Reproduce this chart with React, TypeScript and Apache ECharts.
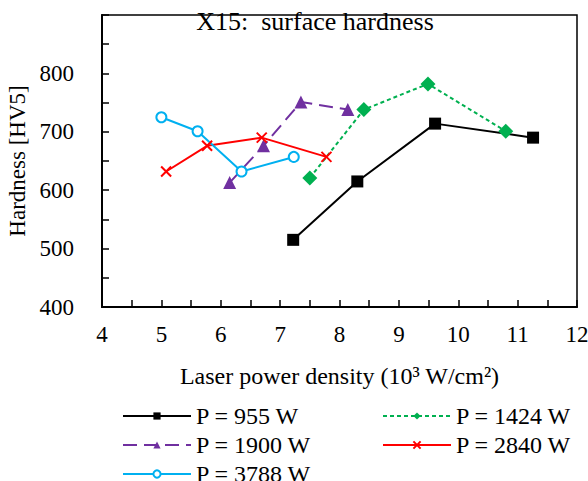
import React, { useEffect, useRef } from "react";
import * as echarts from "echarts";

const seriesNames = ["P = 955 W", "P = 1424 W", "P = 1900 W", "P = 2840 W", "P = 3788 W"];
const x955 = [7.22, 8.3, 9.61, 11.26];
const y955 = [515, 615, 714, 690];
const x1424 = [7.5, 8.41, 9.49, 10.8];
const y1424 = [621, 738, 782, 701];
const x1900 = [6.15, 6.72, 7.35, 8.14];
const y1900 = [613, 676, 751, 738];
const x2840 = [5.08, 5.77, 6.69, 7.78];
const y2840 = [632, 676, 690, 657];
const x3788 = [5.0, 5.61, 6.35, 7.23];
const y3788 = [725, 701, 632, 657];

const zip = (xs: number[], ys: number[]) => xs.map((x, i) => [x, ys[i]]);

const FONT = "'Liberation Serif', 'Times New Roman', serif";

export default function App() {
  const ref = useRef<HTMLDivElement>(null);
  useEffect(() => {
    const chart = echarts.init(ref.current!, null, { renderer: "svg" });
    const cross = "path://M0,0L10,10M10,0L0,10";
    const legendText = { fontFamily: FONT, fontSize: 24, lineHeight: 16, color: "#000" };
    const mkLegend = (name: string, left: number, top: number) => ({
      data: [name], orient: "horizontal", left, top,
      itemWidth: 68, itemHeight: 9, itemGap: 0, padding: 0,
      textStyle: legendText,
    });
    chart.setOption({
      animation: false,
      backgroundColor: "#fff",
      textStyle: { fontFamily: FONT, color: "#000" },
      title: {
        text: "X15:  surface hardness",
        left: 315,
        textAlign: "center",
        top: 8,
        padding: 0,
        textStyle: { fontFamily: FONT, fontSize: 26, fontWeight: "normal", color: "#000" },
      },
      grid: {
        left: 102, right: 11, top: 15, bottom: 174,
        containLabel: false,
        outerBoundsMode: "none",
        show: true, borderColor: "#000", borderWidth: 1.5,
      },
      xAxis: {
        type: "value", min: 4, max: 12, interval: 1,
        name: "Laser power density (10³ W/cm²)",
        nameLocation: "middle", nameGap: 57,
        nameTextStyle: { fontFamily: FONT, fontSize: 24, color: "#000" },
        axisLine: { lineStyle: { color: "#000", width: 2 } },
        axisTick: { inside: true, length: 7, lineStyle: { color: "#000", width: 1.5 } },
        minorTick: { show: true, splitNumber: 2, length: 7, lineStyle: { color: "#000", width: 1.5 } },
        splitLine: { show: false },
        axisLabel: { fontFamily: FONT, fontSize: 23, color: "#000", margin: 16 },
      },
      yAxis: {
        type: "value", min: 400, max: 900, interval: 100,
        name: "Hardness [HV5]",
        nameLocation: "middle", nameGap: 69,
        nameTextStyle: { fontFamily: FONT, fontSize: 23, color: "#000" },
        axisLine: { show: true, lineStyle: { color: "#000", width: 2 } },
        axisTick: { inside: true, length: 7, lineStyle: { color: "#000", width: 1.5 } },
        minorTick: { show: true, splitNumber: 2, length: 7, lineStyle: { color: "#000", width: 1.5 } },
        splitLine: { show: false },
        axisLabel: {
          fontFamily: FONT, fontSize: 23, color: "#000", margin: 28,
          formatter: (v: number) => (v === 900 ? "" : String(v)),
        },
      },
      legend: [
        mkLegend(seriesNames[0], 122, 404),
        mkLegend(seriesNames[2], 122, 433),
        mkLegend(seriesNames[4], 122, 462),
        mkLegend(seriesNames[1], 382, 404),
        mkLegend(seriesNames[3], 382, 433),
      ],
      series: [
        {
          name: seriesNames[0], type: "line", data: zip(x955, y955),
          symbol: "rect", symbolSize: 12,
          lineStyle: { color: "#000", width: 2 },
          itemStyle: { color: "#000" },
        },
        {
          name: seriesNames[1], type: "line", data: zip(x1424, y1424),
          symbol: "diamond", symbolSize: 15,
          lineStyle: { color: "#00b050", width: 2, type: [4, 3] },
          itemStyle: { color: "#00b050" },
        },
        {
          name: seriesNames[2], type: "line", data: zip(x1900, y1900),
          symbol: "triangle", symbolSize: 13,
          lineStyle: { color: "#7030a0", width: 2, type: [14, 7] },
          itemStyle: { color: "#7030a0" },
        },
        {
          name: seriesNames[3], type: "line", data: zip(x2840, y2840),
          symbol: cross, symbolSize: 10,
          lineStyle: { color: "#ff0000", width: 2 },
          itemStyle: { color: "#ff0000", borderColor: "#ff0000", borderWidth: 2 },
        },
        {
          name: seriesNames[4], type: "line", data: zip(x3788, y3788),
          symbol: "emptyCircle", symbolSize: 10,
          lineStyle: { color: "#00b0f0", width: 2 },
          itemStyle: { color: "#00b0f0", borderColor: "#3aa8d0", borderWidth: 1.8 },
        },
      ],
    });
    return () => chart.dispose();
  }, []);
  return (
    <div
      ref={ref}
      style={{ position: "absolute", left: 0, top: 0, width: 588, height: 481 }}
    />
  );
}
